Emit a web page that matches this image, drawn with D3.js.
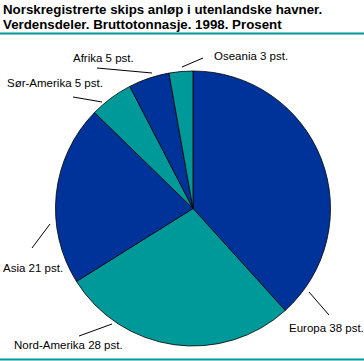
<!DOCTYPE html>
<html><head><meta charset="utf-8">
<script src="https://cdn.jsdelivr.net/npm/d3@7"></script>
<style>body{margin:0;background:#fff}svg{display:block}</style>
</head><body>
<svg id="c" width="364" height="361"></svg>
<script>
const categories = ["Europa","Nord-Amerika","Asia","Sør-Amerika","Afrika","Oseania"];
const values = [38.3, 27.8, 21.2, 5.1, 4.8, 2.8];
const labelPct = [38, 28, 21, 5, 5, 3];
const title = ["Norskregistrerte skips anløp i utenlandske havner.", "Verdensdeler. Bruttotonnasje. 1998. Prosent"];

const svg = d3.select("#c");
const W = 364, H = 361;
const cx = 193, cy = 208.5, r = 137.5;
const colors = ["#003399","#009999"];
const font = "Liberation Sans, Arial, sans-serif";

svg.selectAll("text.title").data(title).join("text")
  .attr("x", 3).attr("y", (d,i)=>14 + i*15)
  .attr("font-family", font).attr("font-size", 13.3).attr("font-weight","bold")
  .text(d=>d);

svg.append("line").attr("x1",0).attr("x2",W).attr("y1",33.5).attr("y2",33.5).attr("stroke","#009999").attr("stroke-width",2);
svg.append("line").attr("x1",0).attr("x2",W).attr("y1",359.5).attr("y2",359.5).attr("stroke","#009999").attr("stroke-width",2);

const pie = d3.pie().sort(null).value(d=>d)(values);
const arc = d3.arc().innerRadius(0).outerRadius(r);
const g = svg.append("g").attr("transform",`translate(${cx},${cy})`);
g.selectAll("path").data(pie).join("path")
  .attr("d", arc).attr("fill",(d,i)=>colors[i%2])
  .attr("stroke","#000").attr("stroke-width",0.8);

const lab = [
  {p1:[309,292], p2:[329,315], tx:289, ty:332},
  {p1:[112,324], p2:[79,336], tx:14, ty:349},
  {p1:[50,224], p2:[32,248], tx:3, ty:272},
  {p1:[102,102], p2:[73,97], tx:7, ty:87},
  {p1:[152,73], p2:[97,68], tx:73, ty:62},
  {p1:[182,67], p2:[203,58], tx:214, ty:60}
];
categories.forEach((c,i)=>{
  const L = lab[i];
  svg.append("line").attr("x1",L.p1[0]).attr("y1",L.p1[1]).attr("x2",L.p2[0]).attr("y2",L.p2[1])
    .attr("stroke","#000").attr("stroke-width",1);
  svg.append("text").attr("x",L.tx).attr("y",L.ty)
    .attr("font-family",font).attr("font-size",11.5).text(`${c} ${labelPct[i]} pst.`);
});
</script>
</body></html>
